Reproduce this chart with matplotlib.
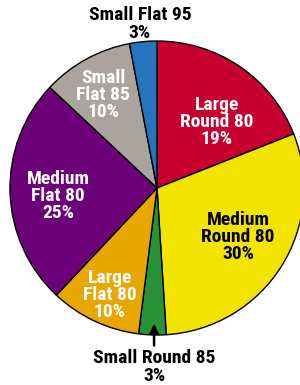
import matplotlib
matplotlib.use("Agg")
from matplotlib import pyplot as plt
from matplotlib import font_manager

# slices, clockwise from 12 o'clock
labels = ['Large\nRound 80', 'Medium\nRound 80', 'Small Round 85', 'Large\nFlat 80',
          'Medium\nFlat 80', 'Small\nFlat 85', 'Small Flat 95']
shares = [19, 30, 3, 10, 25, 10, 3]
colors = ['#C8002F', '#F2E400', '#2A9236', '#E8A600', '#6C0078', '#ABA49E', '#2474BE']
text_colors = ['white', 'black', 'black', 'white', 'white', 'white', 'black']

# narrow bold face if one is around
names = {f.name for f in font_manager.fontManager.ttflist}
narrow = [n for n in ['Liberation Sans Narrow', 'Roboto Condensed', 'DejaVu Sans'] if n in names]
plt.rcParams['font.family'] = narrow + ['DejaVu Sans']

fig = plt.figure(figsize=(3.0, 3.85), dpi=100)
ax = fig.add_axes([0, 0, 1, 1])

ax.pie(shares, colors=colors, startangle=90, counterclock=False, radius=1.0,
       wedgeprops=dict(edgecolor='black', linewidth=1.0))

# label spots (data units, pie radius = 1)
spots = [(0.408, 0.449), (0.551, -0.333), (-0.02, -1.218), (-0.320, -0.728),
         (-0.673, -0.054), (-0.367, 0.633), (-0.116, 1.116)]

for lab, val, tc, (x, y) in zip(labels, shares, text_colors, spots):
    ax.text(x, y, f'{lab}\n{val}%', ha='center', va='center', color=tc,
            fontsize=14, fontweight='heavy', fontstretch='condensed', linespacing=0.95)

# arrow to the thin green slice
ax.annotate('', xy=(-0.02, -0.905), xytext=(-0.02, -1.09),
            arrowprops=dict(arrowstyle='-|>', color='black', lw=1.8, mutation_scale=13))

ax.set_xlim(-157 / 147, 143 / 147)
ax.set_ylim(-197 / 147, 188 / 147)
ax.set_aspect('auto')
ax.axis('off')

fig.savefig('out.png', dpi=100)
